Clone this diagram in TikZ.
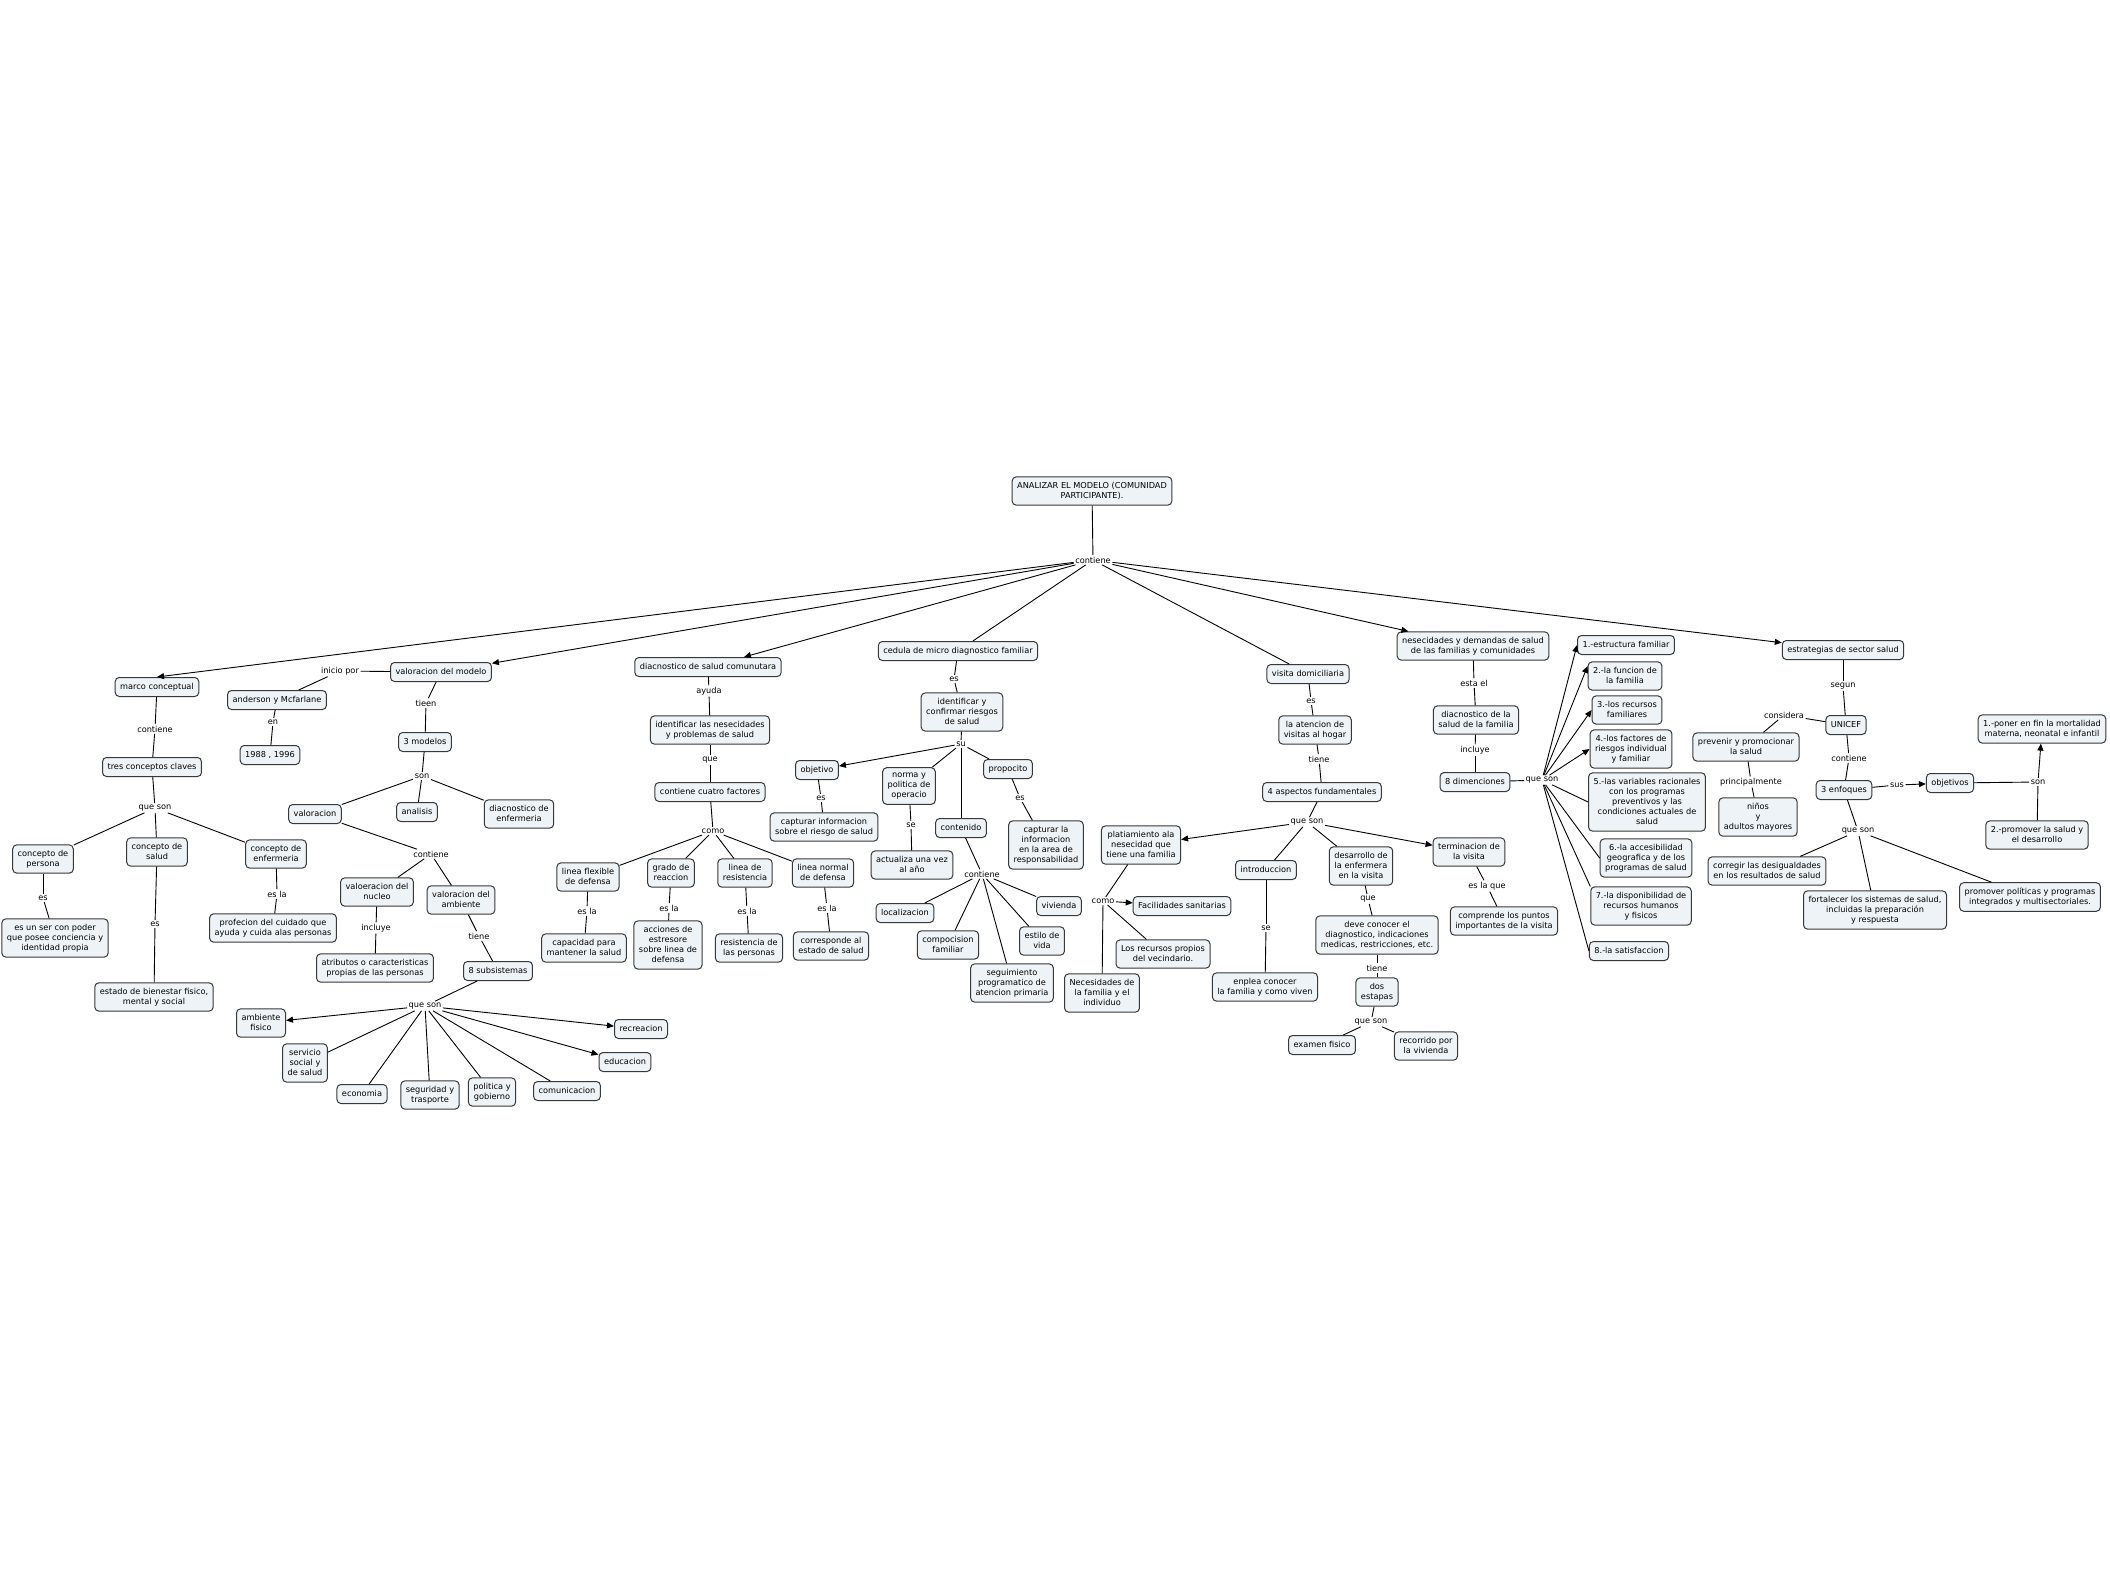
\documentclass[tikz,border=0pt]{standalone}
\usepackage{fontspec}
\usetikzlibrary{arrows.meta}
\newfontfamily\cmapf{DejaVu Sans}
\newcommand\cmapfont{\cmapf\fontsize{8.2}{10}\selectfont}
\definecolor{boxfill}{RGB}{237,243,246}
\tikzset{
  cn/.style={draw=black!78, fill=boxfill, line width=1pt, rounded corners=4pt, inner xsep=5pt, inner ysep=5pt, align=center, font=\cmapfont, execute at begin node={\rule{0pt}{7pt}}, execute at end node={\rule[-2pt]{0pt}{2pt}}},
  lb/.style={inner sep=1.5pt, font=\cmapfont, fill=white},
  ln/.style={line width=0.9pt, draw=black},
  arr/.style={ln, -{Triangle[length=7pt,width=6pt]}},
}
\begin{document}
\begin{tikzpicture}[x=1pt,y=-1pt]
\useasboundingbox[fill=white] (0,0) rectangle (2110,1587);
% ---------- top
\node[cn] (top) at (1092,491) {ANALIZAR EL MODELO (COMUNIDAD\\PARTICIPANTE).};
\node[lb] (l_top) at (1093,560) {contiene};
% ---------- marco conceptual
\node[cn] (marco) at (157,687) {marco conceptual};
\node[lb] (l_mc) at (155,729) {contiene};
\node[cn] (tres) at (152,767) {tres conceptos claves};
\node[lb] (l_tres) at (155,808) {que son};
\node[cn] (persona) at (43,859) {concepto de\\persona};
\node[cn] (salud) at (157,852) {concepto de\\salud};
\node[cn] (enf) at (276,854) {concepto de\\enfermeria};
\node[lb] (l_per) at (43,898) {es};
\node[cn] (ser) at (55,938) {es un ser con poder\\que posee conciencia y\\identidad propia};
\node[lb] (l_sal) at (155,924) {es};
\node[cn] (bien) at (154,997) {estado de bienestar fisico,\\mental y social};
\node[lb] (l_enf) at (277,894) {es la};
\node[cn] (prof) at (273,928) {profecion del cuidado que\\ayuda y cuida alas personas};
% ---------- valoracion del modelo
\node[cn] (valmod) at (441,672) {valoracion del modelo};
\node[lb] (l_ini) at (340,671) {inicio por};
\node[cn] (ander) at (277,700) {anderson y Mcfarlane};
\node[lb] (l_en) at (273,722) {en};
\node[cn] (anio) at (270,755) {1988 , 1996};
\node[lb] (l_tieen) at (426,703) {tieen};
\node[cn] (modelos) at (425,742) {3 modelos};
\node[lb] (l_son) at (422,776) {son};
\node[cn] (valor) at (315,814) {valoracion};
\node[cn] (anal) at (417,812) {analisis};
\node[cn] (diacenf) at (519,814) {diacnostico de\\enfermeria};
\node[lb] (l_cont2) at (431,854) {contiene};
\node[cn] (nucleo) at (377,892) {valoeracion del\\nucleo};
\node[cn] (ambiente) at (461,900) {valoracion del\\ambiente};
\node[lb] (l_incl) at (376,928) {incluye};
\node[cn] (atrib) at (375,968) {atributos o caracteristicas\\propias de las personas};
\node[lb] (l_tiene) at (479,936) {tiene};
\node[cn] (subs) at (498,971) {8 subsistemas};
\node[lb] (l_qs8) at (425,1006) {que son};
\node[cn] (amb) at (261,1023) {ambiente\\fisico};
\node[cn] (serv) at (305,1063) {servicio\\social y\\de salud};
\node[cn] (econ) at (362,1094) {economia};
\node[cn] (segu) at (430,1095) {seguridad y\\trasporte};
\node[cn] (poli) at (492,1092) {politica y\\gobierno};
\node[cn] (comu) at (567,1091) {comunicacion};
\node[cn] (recr) at (641,1029) {recreacion};
\node[cn] (educ) at (625,1062) {educacion};
% ---------- diacnostico de salud comunutara
\node[cn] (diacsc) at (708,667) {diacnostico de salud comunutara};
\node[lb] (l_ayuda) at (709,691) {ayuda};
\node[cn] (identnes) at (710,730) {identificar las nesecidades\\y problemas de salud};
\node[lb] (l_que) at (710,760) {que};
\node[cn] (cuatro) at (710,792) {contiene cuatro factores};
\node[lb] (l_como) at (713,831) {como};
\node[cn] (flex) at (588,877) {linea flexible\\de defensa};
\node[cn] (grado) at (671,873) {grado de\\reaccion};
\node[cn] (resis) at (745,873) {linea de\\resistencia};
\node[cn] (normal) at (823,873) {linea normal\\de defensa};
\node[lb] (l_f) at (587,911) {es la};
\node[lb] (l_g) at (669,908) {es la};
\node[lb] (l_r) at (747,911) {es la};
\node[lb] (l_n) at (827,908) {es la};
\node[cn] (capac) at (584,948) {capacidad para\\mantener la salud};
\node[cn] (acci) at (668,945) {acciones de\\estresore\\sobre linea de\\defensa};
\node[cn] (resp) at (749,948) {resistencia de\\las personas};
\node[cn] (corr) at (831,946) {corresponde al\\estado de salud};
% ---------- cedula
\node[cn] (cedula) at (958,651) {cedula de micro diagnostico familiar};
\node[lb] (l_es3) at (954,679) {es};
\node[cn] (identconf) at (962,712) {identificar y\\confirmar riesgos\\de salud};
\node[lb] (l_su) at (961,744) {su};
\node[cn] (objetivo) at (817,770) {objetivo};
\node[lb] (l_esobj) at (821,798) {es};
\node[cn] (captinf) at (824,827) {capturar informacion\\sobre el riesgo de salud};
\node[cn] (norma) at (909,786) {norma y\\politica de\\operacio};
\node[lb] (l_se) at (911,825) {se};
\node[cn] (actual) at (912,865) {actualiza una vez\\al año};
\node[cn] (contenido) at (961,828) {contenido};
\node[lb] (l_cont3) at (982,874) {contiene};
\node[cn] (loca) at (905,913) {localizacion};
\node[cn] (compo) at (948,945) {compocision\\familiar};
\node[cn] (segui) at (1012,983) {seguimiento\\programatico de\\atencion primaria};
\node[cn] (estilo) at (1042,941) {estilo de\\vida};
\node[cn] (vivi) at (1059,906) {vivienda};
\node[cn] (propo) at (1008,769) {propocito};
\node[lb] (l_espro) at (1020,798) {es};
\node[cn] (captla) at (1046,845) {capturar la\\informacion\\en la area de\\responsabilidad};
% ---------- visita domiciliaria
\node[cn] (visita) at (1308,674) {visita domiciliaria};
\node[lb] (l_es4) at (1311,701) {es};
\node[cn] (aten) at (1315,730) {la atencion de\\visitas al hogar};
\node[lb] (l_tiene4) at (1319,759) {tiene};
\node[cn] (aspec) at (1322,792) {4 aspectos fundamentales};
\node[lb] (l_qs4) at (1307,822) {que son};
\node[cn] (plat) at (1141,845) {platiamiento ala\\nesecidad que\\tiene una familia};
\node[lb] (l_como2) at (1103,901) {como};
\node[cn] (facil) at (1182,906) {Facilidades sanitarias};
\node[cn] (recpro) at (1163,954) {Los recursos propios\\del vecindario.};
\node[cn] (neces) at (1102,993) {Necesidades de\\la familia y el\\individuo};
\node[cn] (intro) at (1266,870) {introduccion};
\node[lb] (l_se2) at (1266,928) {se};
\node[cn] (enplea) at (1265,987) {enplea conocer\\la familia y como viven};
\node[cn] (desa) at (1361,866) {desarrollo de\\la enfermera\\en la visita};
\node[lb] (l_que2) at (1368,899) {que};
\node[cn] (deve) at (1377,935) {deve conocer el\\diagnostico, indicaciones\\medicas, restricciones, etc.};
\node[lb] (l_tiene5) at (1377,968) {tiene};
\node[cn] (dos) at (1377,992) {dos\\estapas};
\node[lb] (l_qs5) at (1371,1022) {que son};
\node[cn] (exam) at (1322,1045) {examen fisico};
\node[cn] (reco) at (1426,1046) {recorrido por\\la vivienda};
\node[cn] (term) at (1469,852) {terminacion de\\la visita};
\node[lb] (l_esq) at (1487,886) {es la que};
\node[cn] (compr) at (1504,921) {comprende los puntos\\importantes de la visita};
% ---------- nesecidades
\node[cn] (neced) at (1473,646) {nesecidades y demandas de salud\\de las familias y comunidades};
\node[lb] (l_esta) at (1474,683) {esta el};
\node[cn] (diacfam) at (1476,720) {diacnostico de la\\salud de la familia};
\node[lb] (l_incl2) at (1475,750) {incluye};
\node[cn] (dimen) at (1475,782) {8 dimenciones};
\node[lb] (l_qs6) at (1542,780) {que son};
\node[cn] (d1) at (1626,645) {1.-estructura familiar};
\node[cn] (d2) at (1625,676) {2.-la funcion de\\la familia};
\node[cn] (d3) at (1627,710) {3.-los recursos\\familiares};
\node[cn] (d4) at (1631,749) {4.-los factores de\\riesgos individual\\y familiar};
\node[cn] (d5) at (1647,802) {5.-las variables racionales\\con los programas\\preventivos y las\\condiciones actuales de\\salud};
\node[cn] (d6) at (1646,858) {6.-la accesibilidad\\geografica y de los\\programas de salud};
\node[cn] (d7) at (1641,906) {7.-la disponibilidad de\\recursos humanos\\y fisicos};
\node[cn] (d8) at (1629,951) {8.-la satisfaccion};
% ---------- estrategias
\node[cn] (estr) at (1843,650) {estrategias de sector salud};
\node[lb] (l_segun) at (1843,686) {segun};
\node[cn] (unicef) at (1846,725) {UNICEF};
\node[lb] (l_cons) at (1784,715) {considera};
\node[cn] (prev) at (1746,747) {prevenir y promocionar\\la salud};
\node[lb] (l_princ) at (1751,782) {principalmente};
\node[cn] (ninos) at (1758,817) {niños\\y\\adultos mayores};
\node[lb] (l_cont6) at (1849,758) {contiene};
\node[cn] (enfo) at (1844,790) {3 enfoques};
\node[lb] (l_sus) at (1897,785) {sus};
\node[cn] (objs) at (1950,783) {objetivos};
\node[lb] (l_son2) at (2038,782) {son};
\node[cn] (poner) at (2042,729) {1.-poner en fin la mortalidad\\materna, neonatal e infantil};
\node[cn] (promo) at (2037,835) {2.-promover la salud y\\el desarrollo};
\node[lb] (l_qs7) at (1858,831) {que son};
\node[cn] (corrd) at (1767,871) {corregir las desigualdades\\en los resultados de salud};
\node[cn] (fort) at (1875,910) {fortalecer los sistemas de salud,\\incluidas la preparación\\y respuesta};
\node[cn] (polit) at (2030,897) {promover políticas y programas\\integrados y multisectoriales.};
% ================= connectors
\draw[ln] (top) -- (l_top);
\draw[arr] (l_top) -- (marco.north);
\draw[arr] (l_top) -- (valmod);
\draw[arr] (l_top) -- (diacsc);
\draw[ln] (l_top) -- (cedula);
\draw[ln] (l_top) -- (visita);
\draw[arr] (l_top) -- (neced);
\draw[arr] (l_top) -- (estr);
% marco
\draw[ln] (marco) -- (l_mc); \draw[ln] (l_mc) -- (tres);
\draw[ln] (tres) -- (l_tres);
\draw[ln] (l_tres) -- (persona); \draw[ln] (l_tres) -- (salud); \draw[ln] (l_tres) -- (enf);
\draw[ln] (persona) -- (l_per); \draw[ln] (l_per) -- (ser);
\draw[ln] (salud) -- (l_sal); \draw[ln] (l_sal) -- (bien);
\draw[ln] (enf) -- (l_enf); \draw[ln] (l_enf) -- (prof);
% valoracion del modelo
\draw[ln] (valmod) -- (l_ini); \draw[ln] (l_ini) -- (ander);
\draw[ln] (ander) -- (l_en); \draw[ln] (l_en) -- (anio);
\draw[ln] (valmod) -- (l_tieen); \draw[ln] (l_tieen) -- (modelos);
\draw[ln] (modelos) -- (l_son);
\draw[ln] (l_son) -- (valor); \draw[ln] (l_son) -- (anal); \draw[ln] (l_son) -- (diacenf);
\draw[ln] (valor) -- (l_cont2);
\draw[ln] (l_cont2) -- (nucleo); \draw[ln] (l_cont2) -- (ambiente);
\draw[ln] (nucleo) -- (l_incl); \draw[ln] (l_incl) -- (atrib);
\draw[ln] (ambiente) -- (l_tiene); \draw[ln] (l_tiene) -- (subs);
\draw[ln] (subs) -- (l_qs8);
\draw[arr] (l_qs8) -- (amb);
\draw[ln] (l_qs8) -- (serv); \draw[ln] (l_qs8) -- (econ); \draw[ln] (l_qs8) -- (segu);
\draw[ln] (l_qs8) -- (poli); \draw[ln] (l_qs8) -- (comu);
\draw[arr] (l_qs8) -- (educ); \draw[arr] (l_qs8) -- (recr);
% diacnostico de salud comunutara
\draw[ln] (diacsc) -- (l_ayuda); \draw[ln] (l_ayuda) -- (identnes);
\draw[ln] (identnes) -- (l_que); \draw[ln] (l_que) -- (cuatro);
\draw[ln] (cuatro) -- (l_como);
\draw[ln] (l_como) -- (flex); \draw[ln] (l_como) -- (grado); \draw[ln] (l_como) -- (resis); \draw[ln] (l_como) -- (normal);
\draw[ln] (flex) -- (l_f); \draw[ln] (l_f) -- (capac);
\draw[ln] (grado) -- (l_g); \draw[ln] (l_g) -- (acci);
\draw[ln] (resis) -- (l_r); \draw[ln] (l_r) -- (resp);
\draw[ln] (normal) -- (l_n); \draw[ln] (l_n) -- (corr);
% cedula
\draw[ln] (cedula) -- (l_es3); \draw[ln] (l_es3) -- (identconf);
\draw[ln] (identconf) -- (l_su);
\draw[arr] (l_su) -- (objetivo);
\draw[ln] (l_su) -- (norma); \draw[ln] (l_su) -- (contenido); \draw[ln] (l_su) -- (propo);
\draw[ln] (objetivo) -- (l_esobj); \draw[ln] (l_esobj) -- (captinf);
\draw[ln] (norma) -- (l_se); \draw[ln] (l_se) -- (actual);
\draw[ln] (propo) -- (l_espro); \draw[ln] (l_espro) -- (captla);
\draw[ln] (contenido) -- (l_cont3);
\draw[ln] (l_cont3) -- (loca); \draw[ln] (l_cont3) -- (compo); \draw[ln] (l_cont3) -- (segui);
\draw[ln] (l_cont3) -- (estilo); \draw[ln] (l_cont3) -- (vivi);
% visita
\draw[ln] (visita) -- (l_es4); \draw[ln] (l_es4) -- (aten);
\draw[ln] (aten) -- (l_tiene4); \draw[ln] (l_tiene4) -- (aspec);
\draw[ln] (aspec) -- (l_qs4);
\draw[arr] (l_qs4) -- (plat); \draw[ln] (l_qs4) -- (intro); \draw[ln] (l_qs4) -- (desa); \draw[arr] (l_qs4) -- (term);
\draw[ln] (plat) -- (l_como2);
\draw[arr] (l_como2) -- (facil); \draw[ln] (l_como2) -- (recpro); \draw[ln] (l_como2) -- (neces);
\draw[ln] (intro) -- (l_se2); \draw[ln] (l_se2) -- (enplea);
\draw[ln] (desa) -- (l_que2); \draw[ln] (l_que2) -- (deve);
\draw[ln] (deve) -- (l_tiene5); \draw[ln] (l_tiene5) -- (dos);
\draw[ln] (dos) -- (l_qs5);
\draw[ln] (l_qs5) -- (exam); \draw[ln] (l_qs5) -- (reco);
\draw[ln] (term) -- (l_esq); \draw[ln] (l_esq) -- (compr);
% nesecidades
\draw[ln] (neced) -- (l_esta); \draw[ln] (l_esta) -- (diacfam);
\draw[ln] (diacfam) -- (l_incl2); \draw[ln] (l_incl2) -- (dimen);
\draw[ln] (dimen) -- (l_qs6);
\draw[arr] (l_qs6) -- (d1.west); \draw[arr] (l_qs6) -- (d2.165); \draw[arr] (l_qs6) -- (d3.west); \draw[arr] (l_qs6) -- (d4.west);
\draw[ln] (l_qs6) -- (d5.west); \draw[ln] (l_qs6) -- (d6.west); \draw[ln] (l_qs6) -- (d7.north west); \draw[ln] (l_qs6) -- (d8.west);
% estrategias
\draw[ln] (estr) -- (l_segun); \draw[ln] (l_segun) -- (unicef);
\draw[ln] (unicef) -- (l_cons); \draw[ln] (l_cons) -- (prev);
\draw[ln] (prev) -- (l_princ); \draw[ln] (l_princ) -- (ninos);
\draw[ln] (unicef) -- (l_cont6); \draw[ln] (l_cont6) -- (enfo);
\draw[ln] (enfo) -- (l_sus); \draw[arr] (l_sus) -- (objs);
\draw[ln] (objs) -- (l_son2); \draw[arr] (l_son2) -- (poner); \draw[ln] (promo) -- (l_son2);
\draw[ln] (enfo) -- (l_qs7);
\draw[ln] (l_qs7) -- (corrd); \draw[ln] (l_qs7) -- (fort); \draw[ln] (l_qs7) -- (polit);
\end{tikzpicture}
\end{document}
